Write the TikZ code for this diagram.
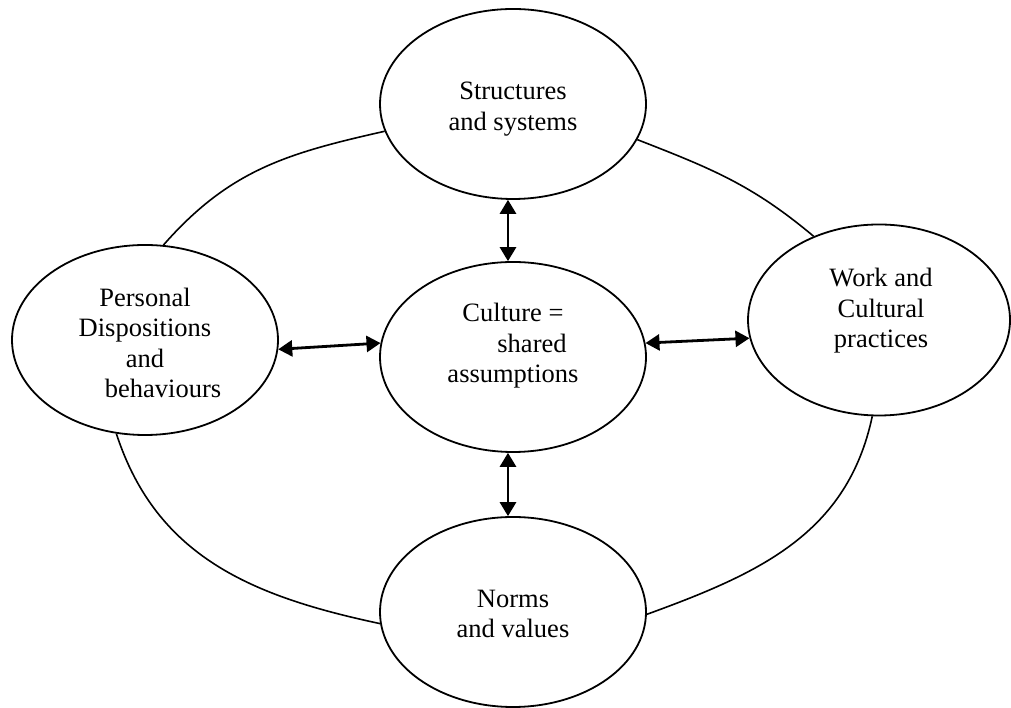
\documentclass[tikz,border=0pt]{standalone}
\usepackage{fontspec}
\setmainfont{Liberation Serif}
\usetikzlibrary{shapes.geometric,arrows.meta}

\begin{document}
\begin{tikzpicture}[x=1pt,y=1pt,
  bubble/.style={draw, ellipse, line width=1.8pt, inner sep=0pt,
                 minimum width=266pt, minimum height=190pt},
  caption/.style={align=center, inner sep=0pt,
                  font=\fontsize{26.5}{30.5}\selectfont},
  ring/.style={line width=1.6pt},
  link/.style={line width=2.8pt,
               {Triangle[length=14pt,width=16pt]}-{Triangle[length=14pt,width=16pt]}}
]
\useasboundingbox (0,0) rectangle (1011,708);

% the five bubbles
\node[bubble] (top) at (513,604) {};
\node[bubble] (lft) at (145,368) {};
\node[bubble] (ctr) at (513,351) {};
\node[bubble, minimum width=262pt, minimum height=191pt] (rgt) at (879,388) {};
\node[bubble] (bot) at (513,96) {};

% their texts
\node[caption] (ttop) at (513,599) {Structures\\and systems};
\node[caption] (tlft) at (145,365) {Personal\\Dispositions\\and\\\hspace*{36pt}behaviours};
\node[caption] (tctr) at (513,362) {Culture =\\\hspace*{38pt}shared\\assumptions};
\node[caption] (trgt) at (881,397) {Work and\\Cultural\\practices};
\node[caption] (tbot) at (513,94) {Norms\\and values};

% outer ring joining the four outer bubbles
\draw[ring] (top.192) to[out=192.7, in=48.7, distance=100pt] (lft.79);
\draw[ring] (top.344) to[out=338.7, in=140, distance=80pt] (rgt.128);
\draw[ring] (rgt.266) to[out=258, in=20, distance=120pt] (bot.359);
\draw[ring] (lft.253) to[out=288, in=168, distance=130pt] (bot.185);

% two-way arrows to the centre
\draw[link] (top.267) -- (ctr.93);
\draw[link] (ctr.267) -- (bot.93);
\draw[link] (lft.356) -- (ctr.174);
\draw[link] (ctr.6) -- (rgt.188);
\end{tikzpicture}
\end{document}
